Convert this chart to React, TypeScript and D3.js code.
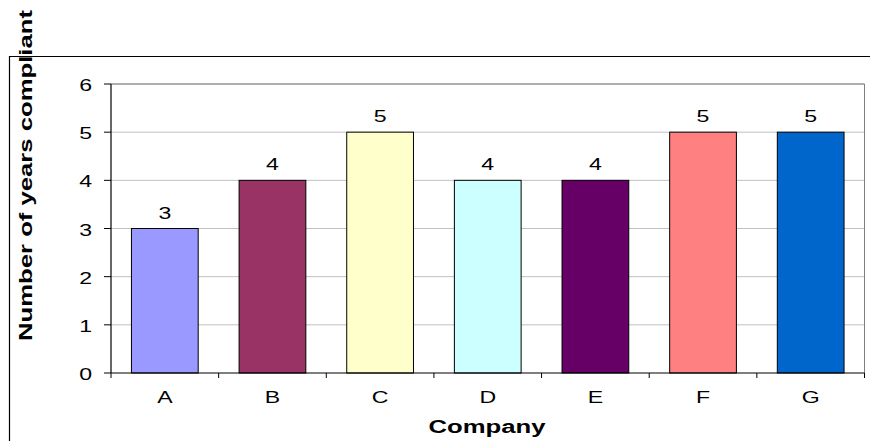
import React from "react";
import * as d3 from "d3";

const categories = ["A", "B", "C", "D", "E", "F", "G"];
const values = [3, 4, 5, 4, 4, 5, 5];
const colors = ["#9999FF", "#993366", "#FFFFCC", "#CCFFFF", "#660066", "#FF8080", "#0066CC"];
const yTicks = [0, 1, 2, 3, 4, 5, 6];

export default function App() {
  const W = 870, H = 441;
  const left = 111, right = 864.5, top = 84, bottom = 373;
  const x = d3.scaleBand<string>().domain(categories).range([left, right]).paddingInner(0.38).paddingOuter(0.19);
  const xb = d3.scaleBand<string>().domain(categories).range([left, right]);
  const y = d3.scaleLinear().domain([0, 6]).range([bottom, top]);
  const font = "'Liberation Sans', Arial, sans-serif";
  const sx = 1.4;
  return (
    <div style={{ position: "absolute", left: 0, top: 0 }}>
      <svg width={W} height={H} style={{ display: "block" }}>
        <rect x={0} y={0} width={W} height={H} fill="#fff" />
        <path d={`M9.5,${H} V56.5 H${W}`} fill="none" stroke="#000" strokeWidth={1.2} />
        {yTicks.slice(1).map((t) => (
          <line key={t} x1={left} x2={right} y1={y(t)} y2={y(t)} stroke="#c0c0c0" strokeWidth={1} />
        ))}
        <path d={`M${left},${top} H${right} V${bottom}`} fill="none" stroke="#808080" strokeWidth={1} />
        {categories.map((c, i) => (
          <rect key={c} x={x(c)} y={y(values[i])} width={x.bandwidth()} height={bottom - y(values[i])}
            fill={colors[i]} stroke="#000" strokeWidth={1} />
        ))}
        <line x1={left} x2={left} y1={top} y2={bottom} stroke="#000" strokeWidth={1.2} />
        <line x1={left} x2={right} y1={bottom} y2={bottom} stroke="#000" strokeWidth={1.2} />
        {yTicks.map((t) => (
          <g key={t}>
            <line x1={left - 7} x2={left} y1={y(t)} y2={y(t)} stroke="#000" strokeWidth={1} />
            <text transform={`translate(92,${y(t) + 7}) scale(${sx},1)`} textAnchor="end" fontFamily={font} fontSize={16.5}>{t}</text>
          </g>
        ))}
        {categories.map((c) => (
          <line key={"t" + c} x1={(xb(c) as number)} x2={(xb(c) as number)} y1={bottom} y2={bottom + 5} stroke="#000" strokeWidth={1} />
        ))}
        <line x1={right} x2={right} y1={bottom} y2={bottom + 5} stroke="#000" strokeWidth={1} />
        {categories.map((c) => (
          <text key={"l" + c} transform={`translate(${(xb(c) as number) + xb.bandwidth() / 2},403) scale(${sx},1)`}
            textAnchor="middle" fontFamily={font} fontSize={16.5}>{c}</text>
        ))}
        {categories.map((c, i) => (
          <text key={"v" + c} transform={`translate(${(x(c) as number) + x.bandwidth() / 2},${y(values[i]) - 10}) scale(${sx},1)`}
            textAnchor="middle" fontFamily={font} fontSize={16.5}>{values[i]}</text>
        ))}
        <text x={487} y={433} textAnchor="middle" fontFamily={font} fontSize={18} fontWeight="bold"
          textLength={117} lengthAdjust="spacingAndGlyphs">Company</text>
        <text transform="translate(32,175.5) rotate(-90)" textAnchor="middle" fontFamily={font} fontSize={19} fontWeight="bold"
          textLength={331} lengthAdjust="spacingAndGlyphs">Number of years compliant</text>
      </svg>
    </div>
  );
}
